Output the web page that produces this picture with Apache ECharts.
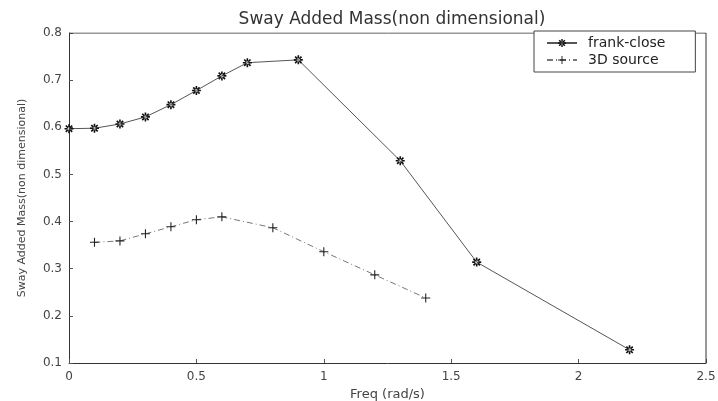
<!DOCTYPE html>
<html>
<head>
<meta charset="utf-8">
<script src="https://cdn.jsdelivr.net/npm/echarts@6/dist/echarts.min.js"></script>
<style>
html, body { margin: 0; padding: 0; background: #fff; }
#chart { width: 718px; height: 401px; }
</style>
</head>
<body>
<div id="chart"></div>
<script>
// values
const frankFreq = [0, 0.1, 0.2, 0.3, 0.4, 0.5, 0.6, 0.7, 0.9, 1.3, 1.6, 2.2]
const frankMass = [0.597, 0.598, 0.607, 0.622, 0.648, 0.678, 0.709, 0.737, 0.743, 0.529, 0.314, 0.128]
const srcFreq = [0.1, 0.2, 0.3, 0.4, 0.5, 0.6, 0.8, 1.0, 1.2, 1.4]
const srcMass = [0.356, 0.359, 0.374, 0.389, 0.404, 0.41, 0.387, 0.336, 0.287, 0.238]
const xTicks = [0, 0.5, 1, 1.5, 2, 2.5]
const yTicks = [0.1, 0.2, 0.3, 0.4, 0.5, 0.6, 0.7, 0.8]

// marker shapes, like matlab '*' and '+'
const plusPath = 'path://M-0.6,-5L0.6,-5L0.6,5L-0.6,5Z M-5,-0.6L5,-0.6L5,0.6L-5,0.6Z'
const starPath = 'path://M-0.9,-5L0.9,-5L0.9,5L-0.9,5Z M-5,-0.9L5,-0.9L5,0.9L-5,0.9Z M-4.2,-2.9L2.9,4.2L4.2,2.9L-2.9,-4.2Z M2.9,-4.2L-4.2,2.9L-2.9,4.2L4.2,-2.9Z'

const font = 'DejaVu Sans'
const pair = (xs, ys) => xs.map((x, i) => [x, ys[i]])

let chart = echarts.init(document.getElementById('chart'))
chart.setOption({
  animation: false,
  title: {
    text: 'Sway Added Mass(non dimensional)',
    left: 387,
    textAlign: 'center',
    top: 6,
    textStyle: { fontSize: 17, fontWeight: 'normal', color: '#333', fontFamily: font },
  },
  grid: { left: 69, right: 12, top: 33, bottom: 38, outerBoundsMode: 'none', containLabel: false },
  legend: {
    orient: 'vertical',
    left: 534,
    top: 31,
    padding: [5, 30, 5, 12],
    itemGap: 3,
    itemWidth: 30,
    itemHeight: 10,
    borderColor: '#444',
    borderWidth: 1,
    backgroundColor: '#fff',
    textStyle: { fontSize: 14, color: '#222', fontFamily: font, padding: [0, 0, 0, 6] },
    data: ['frank-close', '3D source'],
  },
  xAxis: {
    type: 'value',
    min: 0,
    max: 2.5,
    interval: 0.5,
    name: 'Freq (rad/s)',
    nameLocation: 'middle',
    nameGap: 25,
    nameTextStyle: { fontSize: 13, color: '#444', fontFamily: font },
    axisLine: { onZero: false, lineStyle: { color: '#333' } },
    axisTick: { inside: true, length: 4, lineStyle: { color: '#555' } },
    axisLabel: { fontSize: 12, color: '#444', margin: 8, fontFamily: font,
      formatter: v => xTicks.includes(v) ? String(v) : '' },
    splitLine: { show: false },
  },
  yAxis: {
    type: 'value',
    min: 0.1,
    max: 0.8,
    interval: 0.1,
    name: 'Sway Added Mass(non dimensional)',
    nameLocation: 'middle',
    nameGap: 41,
    nameTextStyle: { fontSize: 11, color: '#444', fontFamily: font },
    axisLine: { onZero: false, lineStyle: { color: '#333' } },
    axisTick: { inside: true, length: 4, lineStyle: { color: '#555' } },
    axisLabel: { fontSize: 12, color: '#444', margin: 7, fontFamily: font,
      formatter: v => yTicks.some(t => Math.abs(t - v) < 1e-6) ? v.toFixed(1) : '' },
    splitLine: { show: false },
  },
  series: [
    {
      name: 'frank-close',
      type: 'line',
      data: pair(frankFreq, frankMass),
      symbol: starPath,
      symbolSize: 9,
      itemStyle: { color: '#111' },
      lineStyle: { color: '#555', width: 1 },
    },
    {
      name: '3D source',
      type: 'line',
      data: pair(srcFreq, srcMass),
      symbol: plusPath,
      symbolSize: 9,
      itemStyle: { color: '#222' },
      lineStyle: { color: '#777', width: 1, type: [6, 3, 1, 3] },
    },
    {
      // box frame on top and right, like matlab axes
      type: 'line',
      data: [[0, 0.8], [2.5, 0.8], [2.5, 0.1]],
      symbol: 'none',
      silent: true,
      lineStyle: { color: '#333', width: 1 },
      tooltip: { show: false },
    },
  ],
})
</script>
</body>
</html>
